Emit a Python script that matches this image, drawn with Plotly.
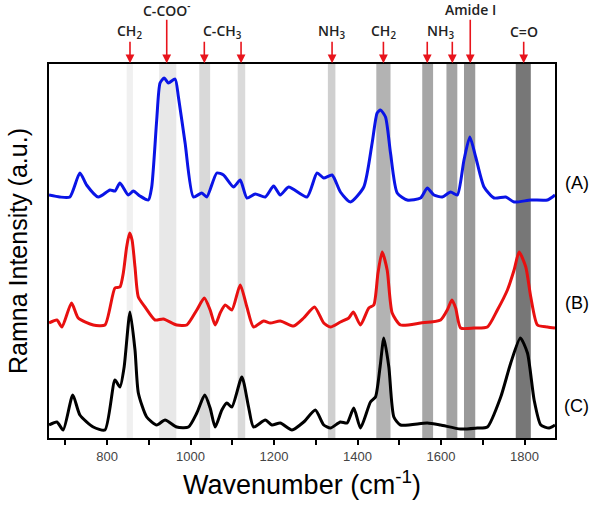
import plotly.graph_objects as go

# spectrum (A) - blue
wn_a = [661, 687, 711, 735, 751, 779, 807, 819, 831, 851, 863, 879, 899, 907, 919, 927, 937, 947, 963,
        971, 987, 1007, 1027, 1039, 1063, 1079, 1103, 1119, 1135, 1155, 1179, 1199, 1215, 1235, 1279,
        1303, 1319, 1339, 1359, 1383, 1415, 1435, 1447, 1455, 1467, 1479, 1495, 1519, 1551, 1567, 1583,
        1603, 1623, 1639, 1655, 1669, 1683, 1703, 1727, 1755, 1775, 1815, 1855, 1873]
int_a = [243, 241, 241, 265, 253, 241, 248, 247, 255, 243, 247, 242, 238, 251, 318, 355, 360, 355, 359,
         341, 295, 241, 245, 241, 265, 263, 251, 258, 240, 244, 241, 252, 243, 251, 241,
         265, 260, 263, 246, 236, 251, 295, 325, 328, 321, 285, 245, 238, 240, 250, 243,
         241, 246, 243, 278, 301, 281, 251, 240, 241, 236, 238, 238, 243]

# spectrum (B) - red
wn_b = [661, 680, 692, 715, 731, 767, 795, 819, 831, 839, 847, 854, 860, 867, 875, 891, 915, 935, 967,
        991, 1015, 1033, 1047, 1059, 1071, 1083, 1099, 1119, 1135, 1151, 1175, 1191, 1215, 1247, 1271,
        1297, 1319, 1335, 1359, 1379, 1390, 1407, 1427, 1439, 1449, 1459, 1471, 1483, 1503, 1551, 1599,
        1615, 1626, 1635, 1647, 1679, 1711, 1735, 1759, 1775, 1787, 1803, 1815, 1831, 1855, 1873]
int_b = [115, 118, 111, 135, 120, 113, 113, 150, 151, 165, 191, 205, 198, 171, 141, 131, 118, 119, 113,
         113, 128, 140, 128, 113, 125, 133, 128, 153, 131, 111, 117, 115, 117, 112, 120,
         131, 115, 111, 116, 120, 126, 113, 130, 133, 165, 186, 168, 125, 113, 115, 118,
         128, 138, 130, 110, 110, 111, 128, 148, 168, 186, 171, 141, 113, 111, 110]

# spectrum (C) - black
wn_c = [661, 680, 695, 718, 735, 767, 795, 819, 831, 841, 855, 867, 875, 895, 919, 939, 967, 995, 1015,
        1034, 1047, 1059, 1075, 1087, 1099, 1123, 1139, 1151, 1179, 1195, 1215, 1243, 1271, 1299, 1319,
        1335, 1359, 1375, 1391, 1407, 1431, 1443, 1454, 1463, 1475, 1487, 1503, 1567, 1599, 1647, 1687,
        1711, 1743, 1767, 1790, 1807, 1823, 1839, 1859, 1873]
int_c = [13, 16, 8, 43, 23, 11, 8, 58, 51, 71, 126, 88, 45, 21, 13, 18, 11, 11, 25,
         43, 30, 11, 28, 35, 31, 61, 31, 11, 18, 13, 15, 8, 16, 28, 13,
         10, 16, 15, 30, 10, 36, 41, 71, 100, 71, 21, 13, 15, 13, 9, 10,
         11, 41, 75, 100, 85, 38, 13, 10, 13]

# highlighted bands
band_lo = [847, 925, 1021, 1113, 1329, 1445, 1555, 1613, 1655, 1779]
band_hi = [862, 966, 1047, 1131, 1347, 1479, 1581, 1639, 1682, 1815]
band_col = ["#f0f0f0", "#e8e8e8", "#d9d9d9", "#dadada", "#cfcfcf",
            "#b3b3b3", "#a6a6a6", "#a3a3a3", "#999999", "#777777"]

# arrows and assignment labels
arrow_x = [855, 943, 1033, 1121, 1339, 1462, 1567, 1627, 1670, 1798]
arrow_long = [False, True, False, False, False, False, False, False, True, False]
label_x = [855, 943, 1076, 1339, 1462, 1599, 1670, 1798]
label_txt = ["CH<sub>2</sub>", "C-COO<sup>-</sup>", "C-CH<sub>3</sub>", "NH<sub>3</sub>",
             "CH<sub>2</sub>", "NH<sub>3</sub>", "Amide I", "C=O"]
label_high = [False, True, False, False, False, False, True, False]

series_names = ["(A)", "(B)", "(C)"]

fig = go.Figure()

for lo, hi, c in zip(band_lo, band_hi, band_col):
    fig.add_shape(type="rect", xref="x", yref="paper", x0=lo, x1=hi, y0=0, y1=1,
                  fillcolor=c, line_width=0, layer="below")

fig.add_trace(go.Scatter(x=wn_a, y=int_a, mode="lines", line=dict(color="#0a14e6", width=3, shape="spline", smoothing=0.6)))
fig.add_trace(go.Scatter(x=wn_b, y=int_b, mode="lines", line=dict(color="#e81010", width=3, shape="spline", smoothing=0.6)))
fig.add_trace(go.Scatter(x=wn_c, y=int_c, mode="lines", line=dict(color="black", width=3, shape="spline", smoothing=0.6)))

for x, lng in zip(arrow_x, arrow_long):
    fig.add_annotation(x=x, y=1.002, xref="x", yref="paper", text="", showarrow=True,
                       ax=0, ay=-45 if lng else -23, arrowhead=2, arrowsize=1.1,
                       arrowwidth=1.6, arrowcolor="#e8141c")

for x, t, hi in zip(label_x, label_txt, label_high):
    fig.add_annotation(x=x, y=1.145 if hi else 1.086, xref="x", yref="paper", text=t,
                       showarrow=False, yanchor="middle", xanchor="center",
                       font=dict(family="Open Sans", size=14, color="#222", weight=600))

# series labels to the right
lab_py = [183, 303, 406]
for name, py in zip(series_names, lab_py):
    fig.add_annotation(x=1.043, y=(438 - py) / 374, xref="paper", yref="paper", text=name,
                       showarrow=False, xanchor="center", yanchor="middle",
                       font=dict(family="Liberation Sans, Arial", size=18, color="black"))

fig.update_layout(
    width=600, height=508,
    margin=dict(l=49, r=45, t=64, b=70),
    paper_bgcolor="white", plot_bgcolor="white",
    showlegend=False,
    font=dict(family="Liberation Sans, Arial"),
)
fig.update_xaxes(range=[661, 1873], tickvals=list(range(700, 1900, 100)),
                 ticktext=["" if v % 200 else str(v) for v in range(700, 1900, 100)],
                 ticks="outside", ticklen=5, tickwidth=2, tickcolor="black",
                 showline=True, linecolor="black", linewidth=2, mirror=True,
                 showgrid=False, zeroline=False,
                 tickfont=dict(size=13, color="#444"),
                 title=dict(text="Wavenumber (cm<sup>-1</sup>)", font=dict(size=27, color="black"), standoff=13))
fig.update_yaxes(range=[0, 374], showticklabels=False, ticks="",
                 showline=True, linecolor="black", linewidth=2, mirror=True,
                 showgrid=False, zeroline=False,
                 title=dict(text="Ramna Intensity (a.u.)", font=dict(size=25, color="black"), standoff=12))

fig.write_html("out.html", config={"displayModeBar": False},
               post_script="document.body.style.margin='0';")
